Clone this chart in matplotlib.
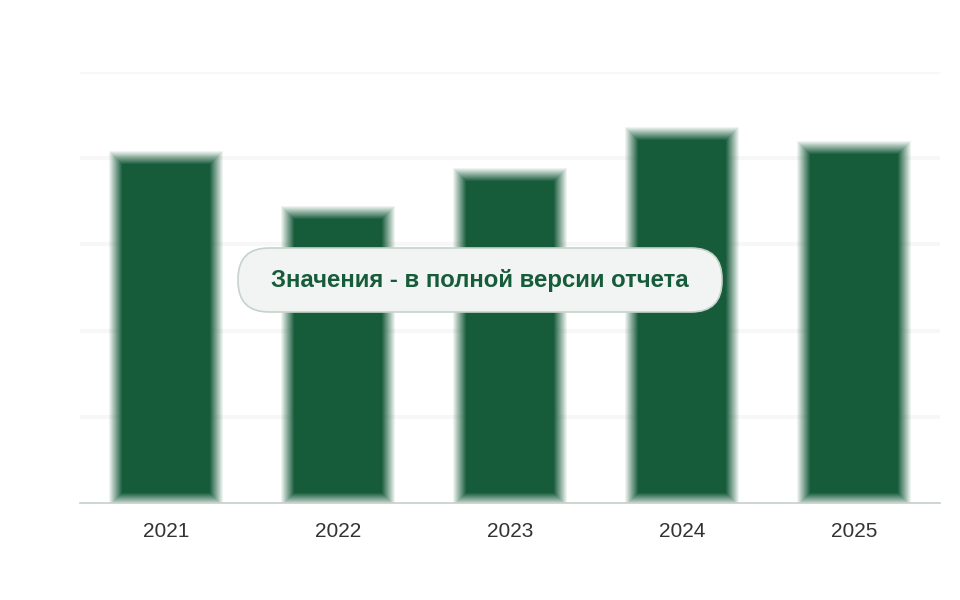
import numpy as np
import matplotlib.pyplot as plt
from matplotlib.patches import FancyBboxPatch

years = ['2021', '2022', '2023', '2024', '2025']
values = [4.01, 3.37, 3.81, 4.29, 4.12]

bar_color = '#175c3a'
plt.rcParams['font.family'] = ['Liberation Sans', 'DejaVu Sans']

fig = plt.figure(figsize=(9.6, 6), dpi=100)
ax = fig.add_axes([80 / 960, 1 - 503 / 600, 860 / 960, 431 / 600])

x = list(range(len(years)))

# stacked translucent layers give the bars a blurred edge (linear ramp)
# 1 x unit = 172 px, 1 y unit = 86 px, blur is about +-6 px
n = 14
offsets = np.linspace(6.5, -6.5, n)
for i, d in enumerate(offsets, start=1):
    a = 1.0 / (n - i + 1)
    bottom = 0.035 - d / 86
    ax.bar(x, [v + d / 86 - bottom for v in values],
           width=0.593 + 2 * d / 172, bottom=bottom,
           color=bar_color, alpha=a, linewidth=0, zorder=2)

ax.set_xlim(-0.5, 4.5)
ax.set_ylim(0, 5)
ax.set_yticks([1, 2, 3, 4, 5])
ax.yaxis.grid(True, color='#f7f7f7', linewidth=3, zorder=0)
ax.tick_params(axis='y', left=False, labelleft=False)
ax.set_xticks(x)
ax.set_xticklabels(years, fontsize=15, color='#333333')
ax.tick_params(axis='x', length=0, pad=14)
for s in ['top', 'right', 'left']:
    ax.spines[s].set_visible(False)
ax.spines['bottom'].set_color('#c5cfc8')
ax.spines['bottom'].set_linewidth(1.2)
ax.spines['bottom'].set_zorder(5)

# overlay in pixel units for the badge
ov = fig.add_axes([0, 0, 1, 1], facecolor='none')
ov.set_xlim(0, 960)
ov.set_ylim(600, 0)
ov.axis('off')
pill = FancyBboxPatch((238, 248), 484, 64,
                      boxstyle='round,pad=0,rounding_size=31',
                      facecolor='#f1f4f2', edgecolor='#c6d3cb', linewidth=1.2,
                      zorder=10)
ov.add_patch(pill)
ov.text(480, 281, 'Значения - в полной версии отчета',
        ha='center', va='center', fontsize=17.3, fontweight='bold',
        color=bar_color, zorder=11)

fig.savefig('out.png', dpi=100, facecolor='white')
